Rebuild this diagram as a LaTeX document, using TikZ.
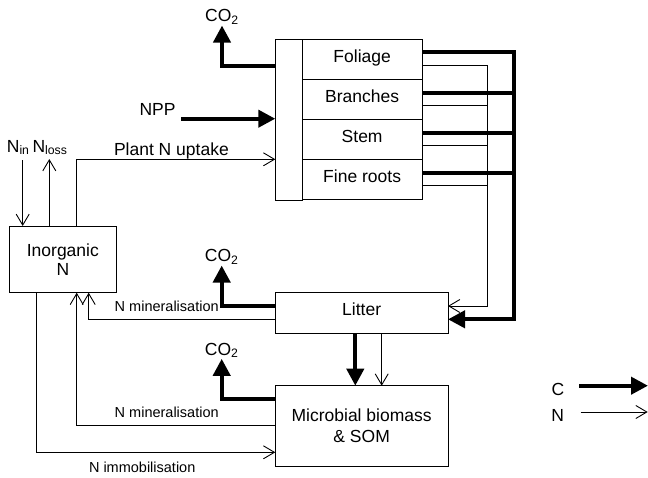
\documentclass[tikz,border=0pt]{standalone}
\usepackage{fontspec}
\setmainfont{Liberation Sans}
\usetikzlibrary{arrows.meta, calc, positioning}
\newcommand{\bigtxt}{\fontsize{17.5}{21.3}\selectfont}
\newcommand{\smalltxt}{\fontsize{14.5}{17}\selectfont}
\newcommand{\cotwo}{CO\textsubscript{2}}

\begin{document}
\begin{tikzpicture}[x=1pt, y=-1pt,
    box/.style={draw, line width=0.8pt, rectangle, inner sep=0pt, outer sep=0pt, font=\bigtxt, align=center},
    rowtxt/.style={text height=12.6pt, text depth=7pt},
    cflow/.style={line width=4pt, -{Triangle[length=17pt, width=17pt]}},
    cline/.style={line width=4pt},
    nflow/.style={line width=0.9pt, -{Straight Barb[length=11pt, width=13pt]}},
    nline/.style={line width=0.9pt},
    lbl/.style={font=\bigtxt, inner sep=1pt, anchor=base},
    slbl/.style={font=\smalltxt, inner sep=1pt, anchor=base}]
    \useasboundingbox (0,0) rectangle (648,477);

    % Plant pools
    \node[box, minimum width=27pt, minimum height=160.7pt] (plantcol) at (288.8,119.65) {};
    \foreach \name/\txt [count=\i] in {foliage/Foliage, branches/Branches, stem/Stem, roots/Fine roots}
        \node[box, rowtxt, minimum width=119.7pt, minimum height=40.15pt] (\name) at (362.15,{19.22+40.15*\i}) {\txt};

    % Litter, microbial biomass and inorganic N
    \node[box, rowtxt, minimum width=172.7pt, minimum height=41pt] (litter) at (361.65,312.8) {Litter};
    \node[box, minimum width=172.7pt, minimum height=80.6pt] (microbe) at (361.65,426) {Microbial biomass\\ \& SOM};
    \node[box, font={\fontsize{17.5}{18.7}\selectfont}, minimum width=107.7pt, minimum height=66.7pt] (inorg) at (62.85,259.35) {Inorganic\\N};

    % Labels
    \node[lbl] (co2plant) at (222,21.7) {\cotwo};
    \node[lbl] (co2litter) at (221.7,261.7) {\cotwo};
    \node[lbl] (co2microbe) at (221.7,355) {\cotwo};
    \node[lbl] (npp) at (157.5,115) {NPP};
    \node[lbl] (nin) at (18.2,152) {N\textsubscript{in}};
    \node[lbl] (nloss) at (50,152) {N\textsubscript{loss}};
    \node[lbl] (uptake) at (171.4,155.3) {Plant N uptake};
    \node[slbl] (minlitter) at (166.7,311.7) {N mineralisation};
    \node[slbl] (minmicrobe) at (166.7,417.7) {N mineralisation};
    \node[slbl] (immob) at (142.2,472.3) {N immobilisation};

    % Carbon flows
    \coordinate (nppstart) at (181,118.7);
    \draw[cflow] (nppstart) -- (nppstart -| plantcol.west);
    \draw[cflow] (plantcol.west |- 0,66) -| (co2plant.south);
    \coordinate (cbus) at (514,319.3);
    \draw[cflow] ([yshift=7.3pt]foliage.east) -| (cbus) -- (cbus -| litter.east);
    \foreach \name in {branches, stem, roots}
        \draw[cline] ([yshift=7pt]\name.east) -- ([yshift=7pt]\name.east -| cbus);
    \draw[cflow] (litter.west |- 0,306) -| (co2litter.south);
    \draw[cflow] (microbe.west |- 0,399) -| (co2microbe.south);
    \draw[cflow] (litter.south -| 355.3,0) -- (microbe.north -| 355.3,0);

    % Nitrogen flows
    \coordinate (nbus) at (487.7,306);
    \draw[nflow] ([yshift=-6.3pt]foliage.east) -| (nbus) -- (nbus -| litter.east);
    \foreach \name in {branches, stem, roots}
        \draw[nline] ([yshift=-6pt]\name.east) -- ([yshift=-6pt]\name.east -| nbus);
    \coordinate (ninstart) at (22.7,160);
    \coordinate (nlossend) at (49.3,159);
    \draw[nflow] (ninstart) -- (inorg.north -| ninstart);
    \draw[nflow] (inorg.north -| nlossend) -- (nlossend);
    \draw[nflow] (inorg.north -| 76.3,0) |- (plantcol.west |- 0,159.3);
    \draw[nflow] (litter.west |- 0,319) -| (inorg.south -| 88.7,0);
    \draw[nflow] (microbe.west |- 0,425.7) -| (inorg.south -| 76.7,0);
    \draw[nflow] (inorg.south -| 36.3,0) |- (microbe.west |- 0,452.3);
    \draw[nflow] (litter.south -| 381.7,0) -- (microbe.north -| 381.7,0);

    % Key
    \node[lbl] (ckey) at (558,395) {C};
    \node[lbl] (nkey) at (557.7,421) {N};
    \coordinate (ckeystart) at (579,385.7);
    \coordinate (nkeystart) at (580.7,412);
    \draw[cflow] (ckeystart) -- (648,385.7);
    \draw[nflow] (nkeystart) -- (647.7,412);
\end{tikzpicture}
\end{document}
